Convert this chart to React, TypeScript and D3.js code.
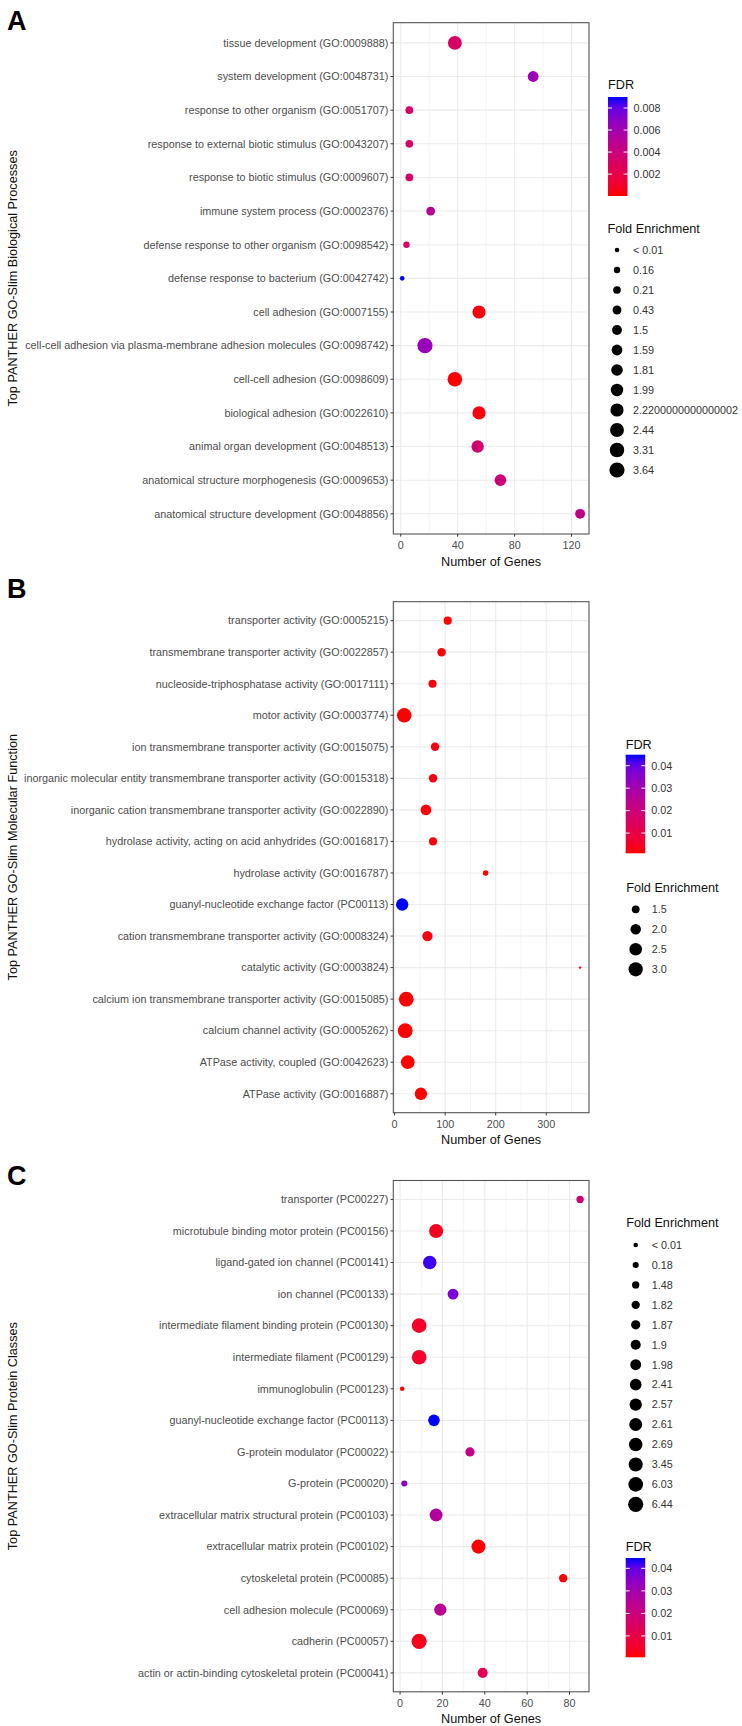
import React from 'react';
import * as d3 from 'd3';

// ---- Panel A: biological processes (top to bottom) ----
const bpTerms = [
  'tissue development (GO:0009888)',
  'system development (GO:0048731)',
  'response to other organism (GO:0051707)',
  'response to external biotic stimulus (GO:0043207)',
  'response to biotic stimulus (GO:0009607)',
  'immune system process (GO:0002376)',
  'defense response to other organism (GO:0098542)',
  'defense response to bacterium (GO:0042742)',
  'cell adhesion (GO:0007155)',
  'cell-cell adhesion via plasma-membrane adhesion molecules (GO:0098742)',
  'cell-cell adhesion (GO:0098609)',
  'biological adhesion (GO:0022610)',
  'animal organ development (GO:0048513)',
  'anatomical structure morphogenesis (GO:0009653)',
  'anatomical structure development (GO:0048856)',
];
const bpGenes = [38, 93, 6, 6, 6, 21, 4, 1, 55, 17, 38, 55, 54, 70, 126];
const bpFDR = [0.0031, 0.0063, 0.0032, 0.0032, 0.0032, 0.0049, 0.003, 0.009, 0.0002, 0.0064, 0.00001, 0.0002, 0.0035, 0.0038, 0.0045];
const bpFold = ['2.44', '1.59', '0.21', '0.21', '0.21', '0.43', '0.16', '< 0.01', '2.2200000000000002', '3.64', '3.31', '2.2200000000000002', '1.99', '1.81', '1.5'];
const bpFoldLevels = ['< 0.01', '0.16', '0.21', '0.43', '1.5', '1.59', '1.81', '1.99', '2.2200000000000002', '2.44', '3.31', '3.64'];
const bpTicks = [0, 40, 80, 120];

// ---- Panel B: molecular function ----
const mfTerms = [
  'transporter activity (GO:0005215)',
  'transmembrane transporter activity (GO:0022857)',
  'nucleoside-triphosphatase activity (GO:0017111)',
  'motor activity (GO:0003774)',
  'ion transmembrane transporter activity (GO:0015075)',
  'inorganic molecular entity transmembrane transporter activity (GO:0015318)',
  'inorganic cation transmembrane transporter activity (GO:0022890)',
  'hydrolase activity, acting on acid anhydrides (GO:0016817)',
  'hydrolase activity (GO:0016787)',
  'guanyl-nucleotide exchange factor (PC00113)',
  'cation transmembrane transporter activity (GO:0008324)',
  'catalytic activity (GO:0003824)',
  'calcium ion transmembrane transporter activity (GO:0015085)',
  'calcium channel activity (GO:0005262)',
  'ATPase activity, coupled (GO:0042623)',
  'ATPase activity (GO:0016887)',
];
const mfGenes = [105, 93, 75, 19, 80, 76, 62, 76, 180, 15, 65, 367, 23, 21, 26, 52];
const mfFDR = [0.001, 0.0012, 0.002, 0.001, 0.002, 0.002, 0.0018, 0.002, 0.0012, 0.0449, 0.0018, 0.0011, 0.001, 0.001, 0.001, 0.001];
const mfFold = [1.55, 1.6, 1.55, 3.1, 1.6, 1.6, 2.05, 1.55, 1.23, 2.45, 1.95, 1.1, 3.2, 3.2, 2.85, 2.45];
const mfFoldBreaks = [1.5, 2.0, 2.5, 3.0];
const mfTicks = [0, 100, 200, 300];

// ---- Panel C: protein classes ----
const pcTerms = [
  'transporter (PC00227)',
  'microtubule binding motor protein (PC00156)',
  'ligand-gated ion channel (PC00141)',
  'ion channel (PC00133)',
  'intermediate filament binding protein (PC00130)',
  'intermediate filament (PC00129)',
  'immunoglobulin (PC00123)',
  'guanyl-nucleotide exchange factor (PC00113)',
  'G-protein modulator (PC00022)',
  'G-protein (PC00020)',
  'extracellular matrix structural protein (PC00103)',
  'extracellular matrix protein (PC00102)',
  'cytoskeletal protein (PC00085)',
  'cell adhesion molecule (PC00069)',
  'cadherin (PC00057)',
  'actin or actin-binding cytoskeletal protein (PC00041)',
];
const pcGenes = [85, 17, 14, 25, 9, 9, 1, 16, 33, 2, 17, 37, 77, 19, 9, 39];
const pcFDR = [0.018, 0.003, 0.043, 0.037, 0.005, 0.005, 0.001, 0.0446, 0.022, 0.035, 0.026, 0.0008, 0.0005, 0.024, 0.003, 0.012];
const pcFold = ['1.48', '3.45', '2.69', '1.98', '6.03', '6.03', '< 0.01', '2.41', '1.87', '0.18', '2.61', '3.45', '1.82', '2.57', '6.44', '1.9'];
const pcFoldLevels = ['< 0.01', '0.18', '1.48', '1.82', '1.87', '1.9', '1.98', '2.41', '2.57', '2.61', '2.69', '3.45', '6.03', '6.44'];
const pcTicks = [0, 20, 40, 60, 80];

const FONT = 'Liberation Sans, Arial, Helvetica, sans-serif';
const FRAME_L = 393.3;
const FRAME_R = 589;

const expand = ([lo, hi]: [number, number]) => {
  const pad = (hi - lo) * 0.05;
  return [lo - pad, hi + pad];
};

const fdrColor = (fdr: number[]) => {
  const ext = d3.extent(fdr) as [number, number];
  return d3.scaleLinear<string>().domain(ext).range(['#ff0000', '#0000ff']).interpolate(d3.interpolateLab);
};

// discrete fold-enrichment levels -> radius (area grows evenly)
const ordinalRadius = (levels: string[], r0: number, r1: number) => {
  const area = d3.scalePoint<string>().domain(levels).range([r0 * r0, r1 * r1]);
  return (v: string) => Math.sqrt(area(v) as number);
};

// continuous fold enrichment -> radius, like ggplot's area palette
const continuousRadius = (vals: number[], r0: number, r1: number) => {
  const t = d3.scaleLinear().domain(d3.extent(vals) as [number, number]).range([0, 1]).clamp(true);
  const r = d3.scaleLinear().domain([0, 1]).range([r0, r1]);
  return (v: number) => r(Math.sqrt(t(v)));
};

interface PanelProps {
  letter: string;
  letterY: number;
  yTitle: string;
  terms: string[];
  genes: number[];
  radius: number[];
  colors: string[];
  ticks: number[];
  top: number;
  bottom: number;
}

const Panel: React.FC<PanelProps> = ({ letter, letterY, yTitle, terms, genes, radius, colors, ticks, top, bottom }) => {
  const x = d3.scaleLinear().domain(expand(d3.extent(genes) as [number, number])).range([FRAME_L, FRAME_R]);
  const y = d3.scalePoint<string>().domain(terms).range([top, bottom]).padding(0.6);
  const [d0, d1] = x.domain();
  const step = ticks[1] - ticks[0];
  const minor = [ticks[0] - step / 2, ...ticks.map(t => t + step / 2)].filter(v => v > d0 && v < d1);
  const major = ticks.filter(v => v >= d0 && v <= d1);
  const midY = (top + bottom) / 2;

  return (
    <g>
      <text x={7} y={letterY} fontFamily={FONT} fontWeight="bold" fontSize={27} fill="#000">{letter}</text>
      <rect x={FRAME_L} y={top} width={FRAME_R - FRAME_L} height={bottom - top} fill="#fff" />
      {minor.map(v => (
        <line key={'mi' + v} x1={x(v)} x2={x(v)} y1={top} y2={bottom} stroke="#ebebeb" strokeWidth={0.6} />
      ))}
      {major.map(v => (
        <line key={'ma' + v} x1={x(v)} x2={x(v)} y1={top} y2={bottom} stroke="#ebebeb" strokeWidth={1.1} />
      ))}
      {terms.map(t => (
        <line key={'g' + t} x1={FRAME_L} x2={FRAME_R} y1={y(t)} y2={y(t)} stroke="#ebebeb" strokeWidth={1.1} />
      ))}
      {terms.map((t, i) => (
        <circle key={'p' + t} cx={x(genes[i])} cy={y(t)} r={radius[i]} fill={colors[i]} />
      ))}
      <rect x={FRAME_L} y={top} width={FRAME_R - FRAME_L} height={bottom - top} fill="none" stroke="#555" strokeWidth={1.1} />
      {terms.map(t => (
        <g key={'yl' + t}>
          <line x1={FRAME_L - 2.7} x2={FRAME_L} y1={y(t)} y2={y(t)} stroke="#333" strokeWidth={1} />
          <text x={FRAME_L - 5} y={(y(t) as number) + 3.8} textAnchor="end" fontFamily={FONT} fontSize={10.8} fill="#4d4d4d">{t}</text>
        </g>
      ))}
      {major.map(v => (
        <g key={'xl' + v}>
          <line x1={x(v)} x2={x(v)} y1={bottom} y2={bottom + 2.7} stroke="#333" strokeWidth={1} />
          <text x={x(v)} y={bottom + 15} textAnchor="middle" fontFamily={FONT} fontSize={10.8} fill="#4d4d4d">{v}</text>
        </g>
      ))}
      <text x={(FRAME_L + FRAME_R) / 2} y={bottom + 31.5} textAnchor="middle" fontFamily={FONT} fontSize={12.7} fill="#111">Number of Genes</text>
      <text transform={`translate(17,${midY}) rotate(-90)`} textAnchor="middle" fontFamily={FONT} fontSize={12.7} fill="#111">{yTitle}</text>
    </g>
  );
};

interface ColorBarProps {
  id: string;
  x: number;
  titleY: number;
  top: number;
  bottom: number;
  fdr: number[];
}

const ColorBar: React.FC<ColorBarProps> = ({ id, x, titleY, top, bottom, fdr }) => {
  const ext = d3.extent(fdr) as [number, number];
  const col = fdrColor(fdr);
  const yb = d3.scaleLinear().domain(ext).range([bottom, top]);
  const ticks = d3.ticks(ext[0], ext[1], 5).filter(v => v >= ext[0] && v <= ext[1]);
  const bw = 19.5;
  const stops = d3.range(0, 1.0001, 0.1);
  return (
    <g>
      <defs>
        <linearGradient id={id} x1="0" y1="1" x2="0" y2="0">
          {stops.map(s => (
            <stop key={s} offset={s} stopColor={col(ext[0] + s * (ext[1] - ext[0]))} />
          ))}
        </linearGradient>
      </defs>
      <text x={x} y={titleY} fontFamily={FONT} fontSize={12.7} fill="#111">FDR</text>
      <rect x={x} y={top} width={bw} height={bottom - top} fill={`url(#${id})`} />
      {ticks.map(v => (
        <g key={v}>
          <line x1={x} x2={x + bw / 5} y1={yb(v)} y2={yb(v)} stroke="#fff" strokeWidth={1} />
          <line x1={x + bw * 0.8} x2={x + bw} y1={yb(v)} y2={yb(v)} stroke="#fff" strokeWidth={1} />
          <text x={x + bw + 6} y={yb(v) + 3.8} fontFamily={FONT} fontSize={10.8} fill="#333">{String(v)}</text>
        </g>
      ))}
    </g>
  );
};

interface SizeLegendProps {
  cx: number;
  titleY: number;
  firstY: number;
  step: number;
  labels: string[];
  radii: number[];
}

const SizeLegend: React.FC<SizeLegendProps> = ({ cx, titleY, firstY, step, labels, radii }) => (
  <g>
    <text x={cx - 9.5} y={titleY} fontFamily={FONT} fontSize={12.7} fill="#111">Fold Enrichment</text>
    {labels.map((l, i) => (
      <g key={l}>
        <circle cx={cx} cy={firstY + i * step} r={radii[i]} fill="#000" />
        <text x={cx + 16} y={firstY + i * step + 3.8} fontFamily={FONT} fontSize={10.8} fill="#333">{l}</text>
      </g>
    ))}
  </g>
);

const App: React.FC = () => {
  const rA = ordinalRadius(bpFoldLevels, 2.3, 7.6);
  const colA = fdrColor(bpFDR);
  const rB = continuousRadius(mfFold, 1.2, 7.4);
  const colB = fdrColor(mfFDR);
  const rC = ordinalRadius(pcFoldLevels, 2.3, 7.6);
  const colC = fdrColor(pcFDR);

  return (
    <svg width={742} height={1726} style={{ position: 'absolute', left: 0, top: 0, background: '#fff' }}>
      <rect width={742} height={1726} fill="#fff" />
      <Panel
        letter="A" letterY={30} yTitle="Top PANTHER GO-Slim Biological Processes"
        terms={bpTerms} genes={bpGenes} radius={bpFold.map(rA)} colors={bpFDR.map(colA)}
        ticks={bpTicks} top={22.7} bottom={534}
      />
      <ColorBar id="gradA" x={608} titleY={89} top={97} bottom={196} fdr={bpFDR} />
      <SizeLegend cx={617} titleY={232.5} firstY={250} step={20} labels={bpFoldLevels} radii={bpFoldLevels.map(rA)} />

      <Panel
        letter="B" letterY={598} yTitle="Top PANTHER GO-Slim Molecular Function"
        terms={mfTerms} genes={mfGenes} radius={mfFold.map(rB)} colors={mfFDR.map(colB)}
        ticks={mfTicks} top={601.7} bottom={1112.7}
      />
      <ColorBar id="gradB" x={625.7} titleY={748.5} top={754.7} bottom={853.3} fdr={mfFDR} />
      <SizeLegend cx={635.7} titleY={891.5} firstY={909.3} step={20} labels={mfFoldBreaks.map(v => v.toFixed(1))} radii={mfFoldBreaks.map(rB)} />

      <Panel
        letter="C" letterY={1185} yTitle="Top PANTHER GO-Slim Protein Classes"
        terms={pcTerms} genes={pcGenes} radius={pcFold.map(rC)} colors={pcFDR.map(colC)}
        ticks={pcTicks} top={1180.5} bottom={1691.8}
      />
      <SizeLegend cx={635.7} titleY={1227} firstY={1245} step={19.95} labels={pcFoldLevels} radii={pcFoldLevels.map(rC)} />
      <ColorBar id="gradC" x={625.7} titleY={1551} top={1558} bottom={1657.3} fdr={pcFDR} />
    </svg>
  );
};

export default App;
